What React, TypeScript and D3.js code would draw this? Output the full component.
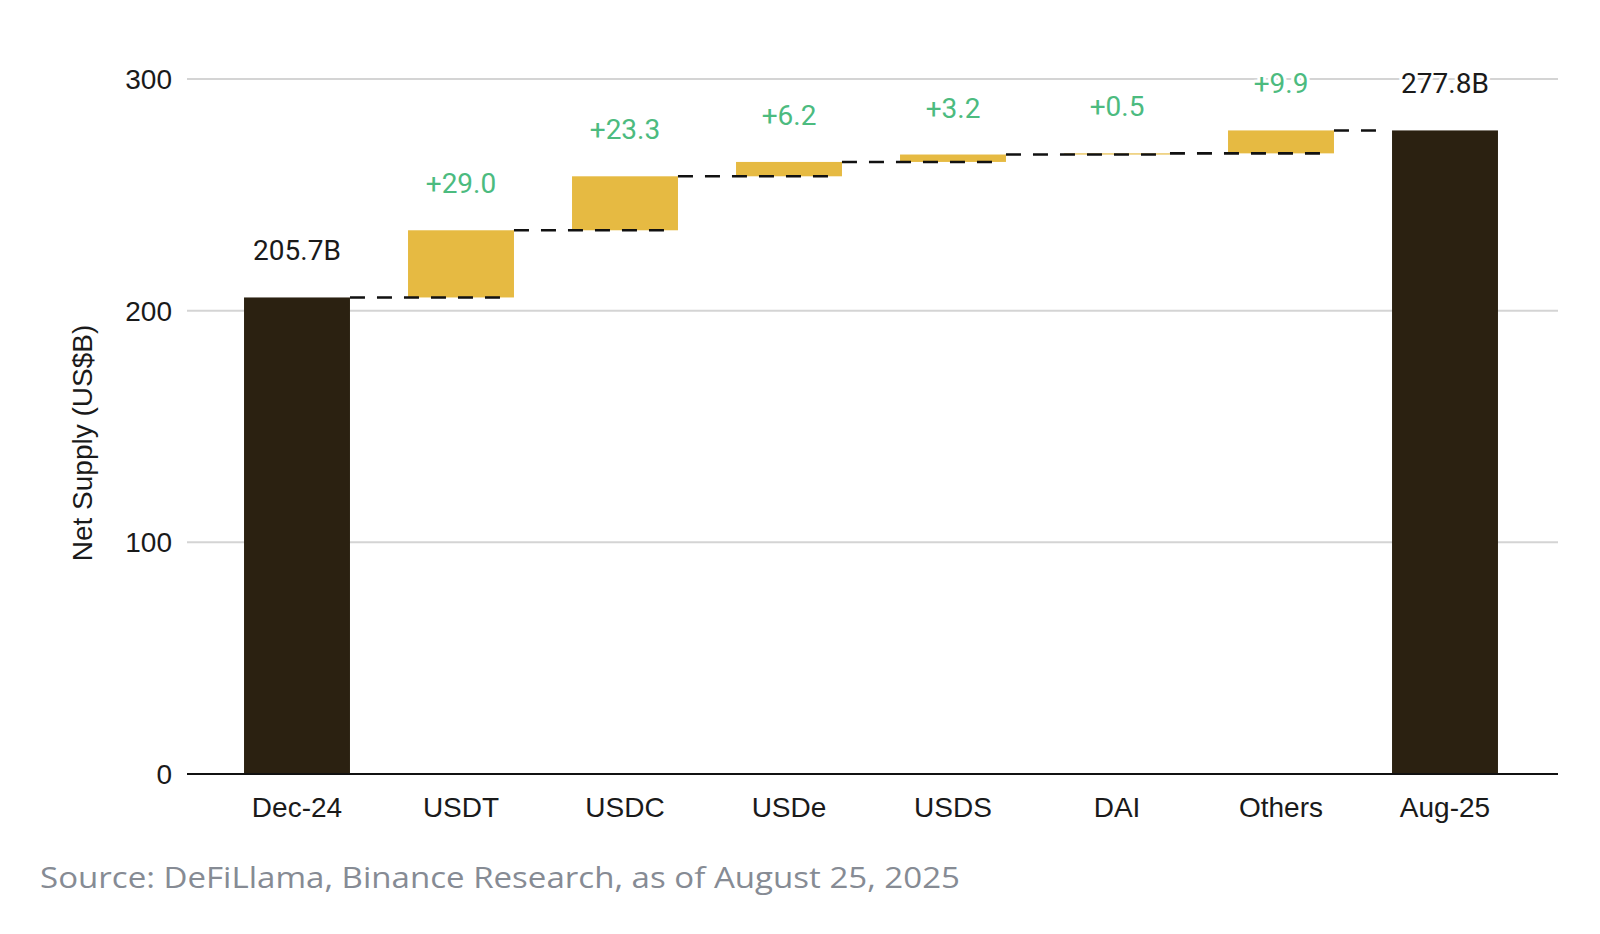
import React from "react";
import * as d3 from "d3";

const categories = ["Dec-24", "USDT", "USDC", "USDe", "USDS", "DAI", "Others", "Aug-25"];
const kinds = ["total", "delta", "delta", "delta", "delta", "delta", "delta", "total"];
const values = [205.7, 29.0, 23.3, 6.2, 3.2, 0.5, 9.9, 277.8];
const yTicks = [0, 100, 200, 300];
const yTitle = "Net Supply (US$B)";
const sourceText = "Source: DeFiLlama, Binance Research, as of August 25, 2025";

const W = 1600;
const H = 934;

const COLORS = {
  total: "#2b2111",
  delta: "#e6ba42",
  green: "#4cbb7f",
  grid: "#d4d4d4",
  text: "#1a1a1a",
  source: "#868b94",
};

type Step = { cat: string; kind: string; value: number; y0: number; y1: number };

function buildSteps(): Step[] {
  let running = 0;
  return categories.map((cat, i) => {
    const kind = kinds[i];
    const v = values[i];
    if (kind === "total") {
      running = v;
      return { cat, kind, value: v, y0: 0, y1: v };
    }
    const y0 = running;
    running = +(running + v).toFixed(2);
    return { cat, kind, value: v, y0, y1: running };
  });
}

export default function App() {
  const steps = buildSteps();
  const gridLeft = 187;
  const gridRight = 1558;

  const x = d3
    .scaleBand<string>()
    .domain(categories)
    .range([215, 1527])
    .paddingInner(0.354)
    .paddingOuter(0.177);
  const bw = x.bandwidth();

  const y = d3.scaleLinear().domain([0, 300]).range([774, 79]);

  const fmtDelta = (v: number) => `+${d3.format(".1f")(v)}`;
  const fmtTotal = (v: number) => `${d3.format(".1f")(v)}B`;

  const connectors = steps.slice(0, -1).map((s, i) => {
    const next = steps[i + 1];
    const nx = x(next.cat) as number;
    return {
      x1: (x(s.cat) as number) + bw,
      x2: next.kind === "total" ? nx - 6 : nx + bw - 12,
      y: y(s.y1),
    };
  });

  const barRect = (s: Step) => (
    <rect
      key={s.cat}
      x={x(s.cat)}
      y={y(s.y1)}
      width={bw}
      height={y(s.y0) - y(s.y1)}
      fill={s.kind === "total" ? COLORS.total : COLORS.delta}
    />
  );

  return (
    <div style={{ position: "absolute", left: 0, top: 0 }}>
      <svg width={W} height={H} viewBox={`0 0 ${W} ${H}`} style={{ display: "block", background: "#fff" }}>
        <rect x={0} y={0} width={W} height={H} fill="#fff" />
        {/* gridlines */}
        {yTicks
          .filter((t) => t !== 0)
          .map((t) => (
            <line key={t} x1={gridLeft} x2={gridRight} y1={y(t)} y2={y(t)} stroke={COLORS.grid} strokeWidth={2} />
          ))}
        {/* y tick labels */}
        {yTicks.map((t) => (
          <text
            key={t}
            x={172}
            y={y(t)}
            dy="0.36em"
            textAnchor="end"
            fontFamily="'Liberation Sans', Arial, sans-serif"
            fontSize={28}
            fill={COLORS.text}
          >
            {t}
          </text>
        ))}
        {/* y axis title */}
        <text
          transform={`translate(92, 443) rotate(-90)`}
          textAnchor="middle"
          fontFamily="'Liberation Sans', Arial, sans-serif"
          fontSize={28}
          fill={COLORS.text}
        >
          {yTitle}
        </text>
        {/* delta bars */}
        {steps.filter((s) => s.kind === "delta").map(barRect)}
        {/* connectors */}
        {connectors.map((c, i) => (
          <line
            key={i}
            x1={c.x1}
            x2={c.x2}
            y1={c.y}
            y2={c.y}
            stroke="#111"
            strokeWidth={2.6}
            strokeDasharray="15 12"
          />
        ))}
        {/* total bars */}
        {steps.filter((s) => s.kind === "total").map(barRect)}
        {/* zero axis line */}
        <line x1={gridLeft} x2={gridRight} y1={y(0)} y2={y(0)} stroke="#111" strokeWidth={2} />
        {/* category labels */}
        {categories.map((c) => (
          <text
            key={c}
            x={(x(c) as number) + bw / 2}
            y={817}
            textAnchor="middle"
            fontFamily="'Liberation Sans', Arial, sans-serif"
            fontSize={28}
            fill={COLORS.text}
          >
            {c}
          </text>
        ))}
        {/* value labels */}
        {steps.map((s) => (
          <text
            key={s.cat}
            x={(x(s.cat) as number) + bw / 2}
            y={y(s.y1) - 37}
            textAnchor="middle"
            fontFamily="Roboto, sans-serif"
            fontSize={28}
            fill={s.kind === "total" ? COLORS.text : COLORS.green}
            stroke="#fff"
            strokeWidth={6}
            strokeLinejoin="round"
            paintOrder="stroke"
          >
            {s.kind === "total" ? fmtTotal(s.value) : fmtDelta(s.value)}
          </text>
        ))}
        {/* source */}
        <text
          x={40}
          y={888}
          fontFamily="'Open Sans', sans-serif"
          fontSize={30}
          fill={COLORS.source}
          textLength={920}
          lengthAdjust="spacingAndGlyphs"
        >
          {sourceText}
        </text>
      </svg>
    </div>
  );
}
